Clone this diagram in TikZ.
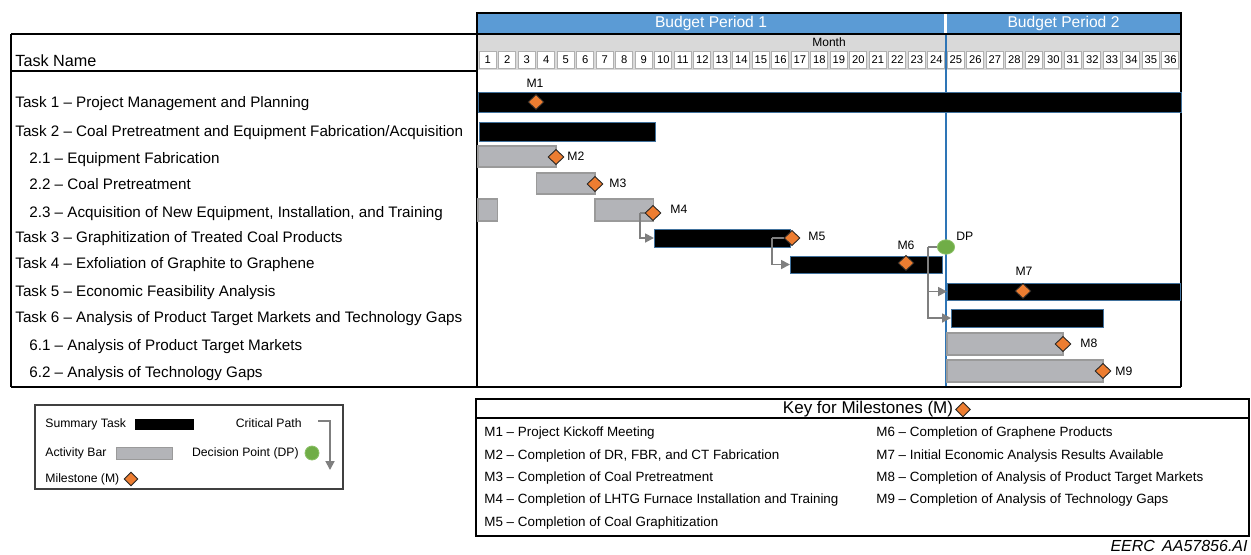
\documentclass[tikz,border=0pt]{standalone}
\usepackage{fontspec}
\setmainfont{Liberation Sans}
\usetikzlibrary{shapes.geometric,arrows.meta,calc}
\definecolor{bpblue}{HTML}{5B9BD5}
\definecolor{dpline}{HTML}{2E75B6}
\definecolor{msorange}{HTML}{ED7D31}
\definecolor{dpgreen}{HTML}{70AD47}
\definecolor{dpedge}{HTML}{8CC168}
\definecolor{actgray}{HTML}{B3B4B8}
\definecolor{actedge}{HTML}{9A9A9A}
\definecolor{cpgray}{HTML}{7F7F7F}
\definecolor{hdrgray}{HTML}{D9D9D9}
\definecolor{cellgray}{HTML}{B0B0B0}
\definecolor{sumedge}{HTML}{41719C}
\newcommand{\boxnode}[7]{\node[#2, inner sep=0pt, outer sep=0pt, anchor=north west, minimum width={(#5-#3)*0.5pt}, minimum height={(#6-#4)*0.5pt}] (#1) at (#3,#4) {#7};}
\begin{document}
\begin{tikzpicture}[x=0.5pt,y=-0.5pt,
 tasktext/.style={anchor=base west,inner sep=0pt,font=\fontsize{7.6pt}{9pt}\selectfont},
 mlabel/.style={inner sep=0pt,font=\fontsize{6.1pt}{7pt}\selectfont},
 keytext/.style={anchor=base west,inner sep=0pt,font=\fontsize{6.7pt}{8pt}\selectfont},
 legtext/.style={inner sep=0pt,font=\fontsize{6.1pt}{7pt}\selectfont},
 sumbar/.style={fill=black,draw=sumedge,line width=0.35pt},
 actbar/.style={fill=actgray,draw=actedge,line width=0.7pt},
 milestone/.style={diamond,fill=msorange,draw=black!85,line width=0.45pt,inner sep=0pt,minimum width=8pt,minimum height=7.6pt},
 dpnode/.style={ellipse,fill=dpgreen,draw=dpedge,line width=0.4pt,inner sep=0pt,minimum width=8.6pt,minimum height=7.2pt},
 cpath/.style={draw=cpgray,line width=0.9pt,-{Triangle[length=4.4pt,width=4.4pt]}},
 cline/.style={draw=cpgray,line width=0.9pt},
 frame/.style={line width=1pt,draw=black},
 bphead/.style={fill=bpblue,text=white,font=\fontsize{7.8pt}{9pt}\selectfont},
 cell/.style={fill=white,draw=cellgray,line width=0.4pt,font=\fontsize{5.6pt}{6pt}\selectfont},
]
\useasboundingbox (0,0) rectangle (1251,554);

% ---- header
\boxnode{bp1}{bphead}{478}{13}{944}{33}{Budget Period 1}
\boxnode{bp2}{bphead}{947}{13}{1180}{33}{Budget Period 2}
\boxnode{monthrow}{fill=hdrgray}{478}{34}{1180}{69.5}{}
\node[inner sep=0pt,font=\fontsize{6pt}{7pt}\selectfont] (month) at (829,42.5) {Month};
\foreach \k in {1,...,36}{
  \pgfmathsetmacro\xa{478+19.5*(\k-1)+1.3}
  \pgfmathsetmacro\xb{478+19.5*\k-1.3}
  \boxnode{c\k}{cell}{\xa}{51}{\xb}{68}{\k}
}

% ---- frame
\draw[frame] (477,12.5) -- (1181,12.5);
\draw[frame] (11,34) -- (1181,34);
\draw[frame] (11,71) -- (477,71);
\draw[frame] (11,34) -- (11,387);
\draw[frame] (477,12) -- (477,387);
\draw[frame] (1180.5,12) -- (1180.5,387);
\draw[frame] (11,387) -- (1181,387);

% ---- decision line
\draw[dpline,line width=1.3pt] (946,35) -- (946,386);

% ---- bars
\boxnode{t1bar}{sumbar}{478}{92}{1181}{112}{}
\boxnode{t2bar}{sumbar}{479}{122}{655}{141}{}
\boxnode{s21bar}{actbar}{478}{146}{556}{167}{}
\boxnode{s22bar}{actbar}{536.5}{173}{595}{194}{}
\boxnode{s23bara}{actbar}{478}{199}{497.5}{221}{}
\boxnode{s23barb}{actbar}{595}{199}{653.5}{221}{}
\boxnode{t3bar}{sumbar}{654}{229}{790}{247}{}
\boxnode{t4bar}{sumbar}{790}{256}{942}{273}{}
\boxnode{t5bar}{sumbar}{947}{283}{1180}{300}{}
\boxnode{t6bar}{sumbar}{951}{309}{1103}{327}{}
\boxnode{s61bar}{actbar}{947}{333}{1063}{355}{}
\boxnode{s62bar}{actbar}{947}{360}{1103}{382}{}

% ---- milestones & decision point (positions)
\coordinate (m4) at (653,213);
\coordinate (m5) at (792,238);
\coordinate (dp) at (946,247);

% ---- critical path
\coordinate (m4turn) at ($(m4)+(-13,0)$);
\coordinate (m5turn) at ($(m5)+(-20,0)$);
\coordinate (dpturn) at ($(dp)+(-18,0)$);
\draw[cline] (m4) -- (m4turn);
\draw[cpath] (m4turn) |- (t3bar.west);
\draw[cline] (m5) -- (m5turn);
\draw[cpath] (m5turn) |- (t4bar.west);
\draw[cline] (dp) -- (dpturn);
\draw[cpath] (dpturn) |- (t5bar.west);
\draw[cpath] (dpturn) |- (t6bar.west);

\node[milestone] (ms1) at (536,102) {};
\node[milestone] (ms2) at (556,157) {};
\node[milestone] (ms3) at (595,184) {};
\node[milestone] (ms4) at (m4) {};
\node[milestone] (ms5) at (m5) {};
\node[milestone] (ms6) at (906,263) {};
\node[milestone] (ms7) at (1023,291) {};
\node[milestone] (ms8) at (1063,344) {};
\node[milestone] (ms9) at (1103,371) {};
\node[dpnode] (dpc) at (dp) {};

% ---- milestone labels
\node[mlabel] (l1) at (535,83) {M1};
\node[mlabel,anchor=west] (l2) at (567,156.5) {M2};
\node[mlabel,anchor=west] (l3) at (609,183.5) {M3};
\node[mlabel,anchor=west] (l4) at (670,209.5) {M4};
\node[mlabel,anchor=west] (l5) at (808,236) {M5};
\node[mlabel] (l6) at (906,245) {M6};
\node[mlabel,anchor=west] (ldp) at (956,236) {DP};
\node[mlabel] (l7) at (1024,271) {M7};
\node[mlabel,anchor=west] (l8) at (1080,343) {M8};
\node[mlabel,anchor=west] (l9) at (1115,371) {M9};

% ---- task names
\node[tasktext,font=\fontsize{8.1pt}{9pt}\selectfont] (tn) at (15,66.3) {Task Name};
\node[tasktext] (t1) at (15,107.3) {Task 1 – Project Management and Planning};
\node[tasktext] (t2) at (15,136.5) {Task 2 – Coal Pretreatment and Equipment Fabrication/Acquisition};
\node[tasktext] (s21) at (29,163.3) {2.1 – Equipment Fabrication};
\node[tasktext] (s22) at (29,189.3) {2.2 – Coal Pretreatment};
\node[tasktext] (s23) at (29,217.3) {2.3 – Acquisition of New Equipment, Installation, and Training};
\node[tasktext] (t3) at (15,242.8) {Task 3 – Graphitization of Treated Coal Products};
\node[tasktext] (t4) at (15,268.8) {Task 4 – Exfoliation of Graphite to Graphene};
\node[tasktext] (t5) at (15,296.3) {Task 5 – Economic Feasibility Analysis};
\node[tasktext] (t6) at (15,322.8) {Task 6 – Analysis of Product Target Markets and Technology Gaps};
\node[tasktext] (s61) at (29,350.3) {6.1 – Analysis of Product Target Markets};
\node[tasktext] (s62) at (29,377.3) {6.2 – Analysis of Technology Gaps};

% ---- legend
\boxnode{legbox}{draw=black!75,line width=0.7pt}{35}{405}{343}{489}{}
\node[legtext,anchor=west] (lsum) at (45,424) {Summary Task};
\boxnode{lsumbar}{fill=black}{135}{419}{194}{430}{}
\node[legtext,anchor=east] (lcp) at (302,423) {Critical Path};
\coordinate (lcpa) at (318,421);
\coordinate (lcpb) at (330,470);
\draw[cpath] (lcpa) -| (lcpb);
\node[legtext,anchor=west] (lact) at (45,453) {Activity Bar};
\boxnode{lactbar}{actbar,line width=0.5pt}{116}{447}{172}{459}{}
\node[legtext,anchor=east] (ldpt) at (299,453) {Decision Point (DP)};
\node[dpnode,minimum width=7pt,minimum height=7pt] (ldpc) at (312,453) {};
\node[legtext,anchor=west] (lms) at (45,479) {Milestone (M)};
\node[milestone,minimum width=7pt,minimum height=7pt] (lmsd) at (131,479) {};

% ---- key
\boxnode{keybox}{draw=black,line width=1pt}{476}{399}{1249}{536}{}
\draw[frame] (476,418) -- (1249,418);
\node[inner sep=0pt,font=\fontsize{8.5pt}{10pt}\selectfont] (keytitle) at (868,409) {Key for Milestones (M)};
\node[milestone,minimum width=7.5pt,minimum height=7.5pt] (keyms) at (963,409.5) {};
\node[keytext] (k1) at (484,436.8) {M1 – Project Kickoff Meeting};
\node[keytext] (k2) at (484,459.8) {M2 – Completion of DR, FBR, and CT Fabrication};
\node[keytext] (k3) at (484,481.8) {M3 – Completion of Coal Pretreatment};
\node[keytext] (k4) at (484,503.8) {M4 – Completion of LHTG Furnace Installation and Training};
\node[keytext] (k5) at (484,526.8) {M5 – Completion of Coal Graphitization};
\node[keytext] (k6) at (876,436.8) {M6 – Completion of Graphene Products};
\node[keytext] (k7) at (876,459.8) {M7 – Initial Economic Analysis Results Available};
\node[keytext] (k8) at (876,481.8) {M8 – Completion of Analysis of Product Target Markets};
\node[keytext] (k9) at (876,503.8) {M9 – Completion of Analysis of Technology Gaps};

\node[anchor=base east,inner sep=0pt,font=\fontsize{8pt}{9pt}\selectfont\itshape] (eerc) at (1248,551) {EERC\hspace{0.45em}AA57856.AI};
\end{tikzpicture}
\end{document}
